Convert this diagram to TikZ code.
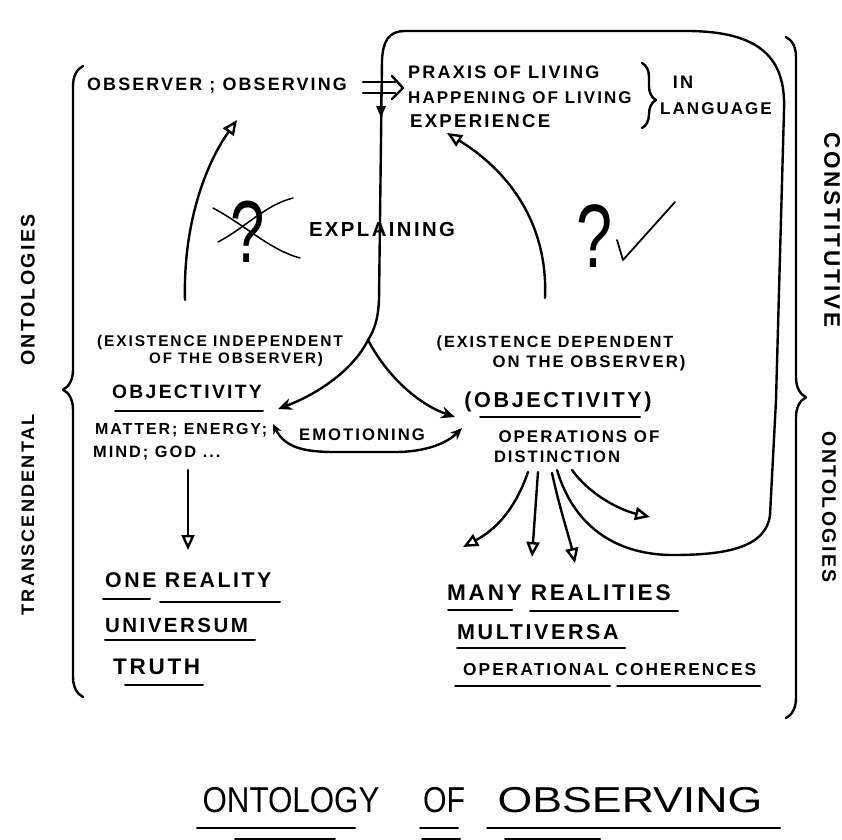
\documentclass[tikz,border=0pt]{standalone}
\usepackage{fontspec}
\setmainfont{Liberation Sans}
\newfontfamily\hw[LetterSpace=12]{Liberation Sans}
\usetikzlibrary{arrows.meta,decorations.pathreplacing,calc}
\begin{document}
\begin{tikzpicture}[x=1pt,y=-1pt,
  ln/.style={line width=2.4pt,line cap=round,line join=round},
  txt/.style={inner sep=0pt,font=\hw\bfseries\fontsize{#1}{#1}\selectfont},
  ul/.style={line width=2pt,line cap=round},
  otri/.style={-{Triangle[open,length=15pt,width=13pt]}},
  ftri/.style={-{Triangle[length=12pt,width=9pt]}},
  barb/.style={-{Stealth[length=14pt,width=12pt]}},
  hbrace/.style={decorate,decoration={brace,amplitude=#1}},
]
\useasboundingbox (0,0) rectangle (842,839);
\fill[white] (0,0) rectangle (842,839);

% ---------- texts ----------
\node[txt=17.9] (obs) at (217,86) {OBSERVER ; OBSERVING};
\node[txt=18.1,anchor=west] (praxis) at (408,72) {PRAXIS OF LIVING};
\node[txt=17,anchor=west] (happ) at (408,98) {HAPPENING OF LIVING};
\node[txt=18.6,anchor=west] (exper) at (410,121) {EXPERIENCE};
\node[txt=18.1] (in) at (683,82) {IN};
\node[txt=17] (lang) at (716,109) {LANGUAGE};

\node[txt=15.5] (exind1) at (220,342) {(EXISTENCE INDEPENDENT};
\node[txt=15.2] (exind2) at (236,360) {OF THE OBSERVER)};
\node[txt=19.3] (obj) at (187,392) {OBJECTIVITY};
\node[txt=16,anchor=west] (matter) at (95,430) {MATTER; ENERGY;};
\node[txt=16.4,anchor=west] (mind) at (93,453) {MIND; GOD ...};

\node[txt=16.2] (exdep1) at (555,343) {(EXISTENCE DEPENDENT};
\node[txt=16.7] (exdep2) at (589,363) {ON THE OBSERVER)};
\node[txt=21.6] (obj2) at (558,402) {(OBJECTIVITY)};
\node[txt=16.9] (ops) at (579,437) {OPERATIONS OF};
\node[txt=16.6] (dist) at (557,457) {DISTINCTION};

\node[txt=20.3] (expl) at (382,230) {EXPLAINING};
\node[txt=16.7] (emot) at (362,435) {EMOTIONING};

\node[txt=21.3,anchor=west] (one) at (105,580) {ONE REALITY};
\node[txt=20.5,anchor=west] (univ) at (105,625) {UNIVERSUM};
\node[txt=22.5,anchor=west] (truth) at (113,667) {TRUTH};

\node[txt=22.6,anchor=west] (many) at (447,593) {MANY REALITIES};
\node[txt=21.5,anchor=west] (multi) at (457,632) {MULTIVERSA};
\node[txt=17.3,anchor=west] (opco) at (463,670) {OPERATIONAL COHERENCES};

\node[txt=19.6,rotate=90] (lont) at (28,290) {ONTOLOGIES};
\node[txt=18.1,rotate=90] (ltrans) at (28,515) {TRANSCENDENTAL};
\node[txt=22.5,rotate=-90] (rcons) at (832,230) {CONSTITUTIVE};
\node[txt=19.5,rotate=-90] (ront) at (829,507) {ONTOLOGIES};

\node[inner sep=0pt,font=\fontsize{36}{36}\selectfont] (t1) at (291,800) {\scalebox{0.87}[1]{ONTOLOGY}};
\node[inner sep=0pt,font=\fontsize{36}{36}\selectfont] (t2) at (444,800) {\scalebox{0.84}[1]{OF}};
\node[inner sep=0pt,font=\fontsize{36}{36}\selectfont] (t3) at (630,800) {\scalebox{1.24}[1]{OBSERVING}};

\node[inner sep=0pt,font=\fontsize{88}{88}\selectfont] (q1) at (248,232) {\scalebox{0.7}[1]{?}};
\node[inner sep=0pt,font=\fontsize{90}{90}\selectfont] (q2) at (595,236) {\scalebox{0.72}[1]{?}};

% ---------- underlines ----------
\draw[ul] (115,411) -- (263,411);
\draw[ul] (480,417) -- (640,417);
\draw[ul] (103,599) -- (150,599);
\draw[ul] (160,602) -- (280,602);
\draw[ul] (105,640) -- (255,640);
\draw[ul] (125,685) -- (203,685);
\draw[ul] (448,610) -- (512,610);
\draw[ul] (530,611) -- (678,611);
\draw[ul] (457,648) -- (625,648);
\draw[ul] (455,686) -- (610,686);
\draw[ul] (617,686) -- (760,686);
\draw[ul] (197,828) -- (355,828);
\draw[ul] (420,828) -- (458,828);
\draw[ul] (487,828) -- (780,828);
\draw[ul] (235,838.5) -- (335,838.5);
\draw[ul] (422,838.5) -- (460,838.5);
\draw[ul] (505,838.5) -- (600,838.5);

% ---------- braces ----------
\draw[ln,hbrace=20,decoration={aspect=0.487}] (83,697) -- (83,66);
\draw[ln,hbrace=20,decoration={aspect=0.529}] (786,37) -- (786,718);
\draw[ln,hbrace=14,decoration={aspect=0.57}] (642,63) -- (642,128);

% ---------- connectors ----------
\coordinate (split) at (368,340);
\coordinate (distB) at (557,470);
\draw[ln] (distB) .. controls (575,530) and (620,555) .. (673,555)
  .. controls (725,555) and (766,548) .. (770,515) -- (776,400) -- (784,110)
  .. controls (786,58) and (760,32) .. (690,31) -- (405,31)
  .. controls (388,31) and (383,42) .. (382,60) -- (379,300)
  .. controls (378,322) and (373,332) .. (split);
\coordinate (vd1) at (381,95);
\coordinate (vd2) at (381,118);
\draw[ln,ftri] (vd1) -- (vd2);

% implies arrow
\coordinate (im1) at (363,82);
\coordinate (im2) at (395,82);
\coordinate (im3) at (363,93);
\coordinate (im4) at (395,93);
\draw[ln] (im1) -- (im2);
\draw[ln] (im3) -- (im4);
\draw[ln] (392,76) -- (403,88) -- (392,99);

\coordinate (lt) at (278,409);
\coordinate (rt) at (455,417);
\draw[ln,barb] (split) .. controls (352,372) and (315,395) .. (lt);
\draw[ln,barb] (split) .. controls (388,378) and (420,405) .. (rt);

\coordinate (e1) at (273,424);
\coordinate (e2) at (462,428);
\draw[ln,{Stealth[length=10pt,width=9pt]}-{Stealth[length=12pt,width=10pt]}] (e1) .. controls (285,448) and (305,452) .. (335,452) -- (395,452) .. controls (428,452) and (448,442) .. (e2);

\coordinate (u1a) at (185,300);
\coordinate (u1b) at (237,120);
\draw[ln,otri] (u1a) .. controls (183,225) and (205,165) .. (u1b);
\coordinate (u2a) at (545,298);
\coordinate (u2b) at (447,133);
\draw[ln,otri] (u2a) .. controls (548,230) and (515,175) .. (u2b);

\coordinate (d1a) at (188,470);
\coordinate (d1b) at (188,550);
\draw[ln,otri] (d1a) -- (d1b);

\coordinate (f1a) at (528,472); \coordinate (f1b) at (463,547);
\coordinate (f2a) at (538,472); \coordinate (f2b) at (532,557);
\coordinate (f3a) at (552,473); \coordinate (f3b) at (575,563);
\coordinate (f4a) at (572,470); \coordinate (f4b) at (650,517);
\draw[ln,otri] (f1a) .. controls (515,510) and (495,530) .. (f1b);
\draw[ln,otri] (f2a) .. controls (536,500) .. (f2b);
\draw[ln,otri] (f3a) .. controls (560,510) and (570,540) .. (f3b);
\draw[ln,otri] (f4a) .. controls (590,495) and (620,510) .. (f4b);

% cross over left question mark
\draw[line width=1.5pt,line cap=round] (213,208) .. controls (245,225) and (270,250) .. (300,258);
\draw[line width=1.5pt,line cap=round] (218,242) .. controls (245,228) and (265,205) .. (293,198);
% check mark
\draw[line width=1.8pt,line cap=round,line join=round] (617,240) -- (623,260) -- (675,202);
\end{tikzpicture}
\end{document}
